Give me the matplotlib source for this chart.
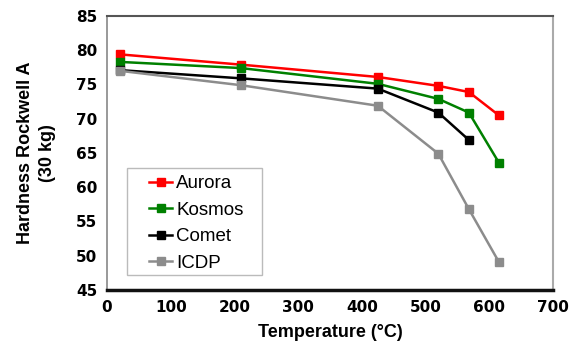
import matplotlib
matplotlib.use('Agg')
import matplotlib.pyplot as plt
from matplotlib.patches import Rectangle

# values
temps = [20, 210, 425, 520, 568, 615]
aurora = [79.4, 77.9, 76.1, 74.8, 73.9, 70.5]
kosmos = [78.3, 77.4, 75.1, 72.9, 70.9, 63.6]
comet = [77.1, 75.9, 74.4, 70.9, 66.9]
icdp = [77.0, 74.9, 71.9, 64.9, 56.8, 49.1]

series = [
    ("Aurora", temps, aurora, "#ff0000"),
    ("Kosmos", temps, kosmos, "#008000"),
    ("Comet", temps[:5], comet, "#000000"),
    ("ICDP", temps, icdp, "#8c8c8c"),
]

plt.rcParams['font.family'] = ['Liberation Sans', 'DejaVu Sans']

fig = plt.figure(figsize=(5.78, 3.58), dpi=100)
ax = fig.add_axes([107 / 578, 1 - 290 / 358, 446 / 578, 274 / 358])

for name, x, y, col in series:
    ax.plot(x, y, color=col, lw=1.8, marker='s', ms=6, label=name)

ax.set_xlim(0, 700)
ax.set_ylim(45, 85)
ax.set_xticks(range(0, 701, 100))
ax.set_yticks(range(45, 86, 5))
ax.tick_params(length=0, pad=7)
for lbl in ax.get_xticklabels() + ax.get_yticklabels():
    lbl.set_fontfamily('DejaVu Sans')
    lbl.set_fontweight('bold')
    lbl.set_fontsize(11)

ax.set_xlabel('Temperature (°C)', fontsize=13, fontweight='bold', labelpad=7)
ax.set_ylabel('Hardness Rockwell A\n(30 kg)', fontsize=13, fontweight='bold',
              labelpad=14, linespacing=1.45)

ax.spines['top'].set_color('#555555')
ax.spines['top'].set_linewidth(1.5)
ax.spines['left'].set_color('#888888')
ax.spines['left'].set_linewidth(1.2)
ax.spines['right'].set_color('#aaaaaa')
ax.spines['right'].set_linewidth(1.5)
ax.spines['bottom'].set_color('#111111')
ax.spines['bottom'].set_linewidth(2.5)

# legend box drawn separately so its padding can match the original
ax.add_patch(Rectangle((0.045, 0.055), 0.303, 0.39, transform=ax.transAxes,
                       facecolor='white', edgecolor='#bbbbbb', lw=1.0, zorder=4))
leg = ax.legend(loc='upper left', bbox_to_anchor=(0.094, 0.419), fontsize=13.5,
                frameon=False, handlelength=1.25, handletextpad=0.2,
                borderpad=0, labelspacing=0.5, borderaxespad=0, markerscale=0.85)
leg.set_zorder(5)

fig.savefig('out.png', dpi=100)
